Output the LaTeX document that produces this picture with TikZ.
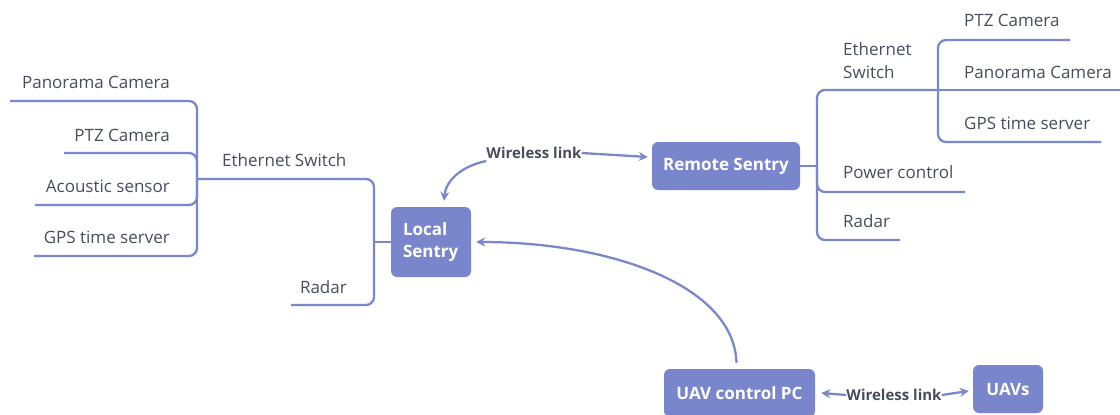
\documentclass[tikz,border=0pt]{standalone}
\usepackage{fontspec}
\setmainfont{Open Sans}
\IfFontExistsTF{Open Sans SemiBold}
  {\newfontfamily\heavyfont{Open Sans SemiBold}}
  {\newcommand\heavyfont{\bfseries}}
\usetikzlibrary{arrows.meta}
\definecolor{linkblue}{HTML}{7B87CD}
\definecolor{boxblue}{HTML}{7A86CB}
\definecolor{ink}{HTML}{474D5A}
\tikzset{
  branch/.style={draw=linkblue, line width=2.3pt, rounded corners=8pt},
  link/.style={draw=linkblue, line width=2.3pt, -{Stealth[length=9pt,width=9pt]}},
  leaf/.style={inner sep=0pt, text=ink, font=\fontsize{17}{23}\selectfont},
  hub/.style={fill=boxblue, rounded corners=6pt, text=white, inner sep=0pt,
    font=\fontsize{17}{22}\selectfont\heavyfont, align=left},
  linklabel/.style={inner sep=0pt, text=ink, font=\fontsize{15}{18}\selectfont\heavyfont}
}
\begin{document}
\begin{tikzpicture}[x=1pt, y=-1pt]
\clip (0,0) rectangle (1120,415);

% main units
\node[hub, minimum width=80pt, minimum height=70pt] (local) at (431,242) {\raisebox{-2pt}{\parbox{56pt}{Local\\Sentry}}};
\node[hub, minimum width=148pt, minimum height=48pt] (remote) at (726,166) {Remote Sentry};
\node[hub, minimum width=151pt, minimum height=48pt] (uavpc) at (739.5,393) {UAV control PC};
\node[hub, minimum width=70pt, minimum height=48pt] (uavs) at (1008,389) {UAVs};

% local sentry tree
\node[leaf, anchor=base east] (lpanT) at (170,88) {Panorama Camera};
\node[leaf, anchor=base east] (lptzT) at (170,141) {PTZ Camera};
\node[leaf, anchor=base east] (lacoT) at (170,192) {Acoustic sensor};
\node[leaf, anchor=base east] (lgpsT) at (170,243) {GPS time server};
\node[leaf, anchor=base west] (lethT) at (222,166) {Ethernet Switch};
\node[leaf, anchor=base east] (lradT) at (347,293) {Radar};

\coordinate (lpan) at (10,101);
\coordinate (lptz) at (64,153);
\coordinate (laco) at (35,205);
\coordinate (lgps) at (34,256);
\coordinate (lhub) at (197,179);
\coordinate (ljoin) at (374,242);
\coordinate (lrad) at (291,305);

\draw[branch] (lpan) -| (lhub);
\draw[branch] (lptz) -| (lhub);
\draw[branch] (laco) -| (lhub);
\draw[branch] (lgps) -| (lhub);
\draw[branch] (lhub) -| (ljoin);
\draw[branch] (lrad) -| (ljoin);
\draw[branch] (ljoin) -- (local.west);

% remote sentry tree
\node[leaf, anchor=base west, align=left] (rethT) at (843,78) {Ethernet\\Switch};
\node[leaf, anchor=base west] (rptzT) at (964,26) {PTZ Camera};
\node[leaf, anchor=base west] (rpanT) at (964,78) {Panorama Camera};
\node[leaf, anchor=base west] (rgpsT) at (964,129) {GPS time server};
\node[leaf, anchor=base west] (rpwrT) at (843,178) {Power control};
\node[leaf, anchor=base west] (rradT) at (843,227) {Radar};

\coordinate (rhub) at (817,166);
\coordinate (rsub) at (938,90);
\coordinate (rpan) at (1120,90);
\coordinate (rptz) at (1070,40);
\coordinate (rgps) at (1101,142);
\coordinate (rpwr) at (965,192);
\coordinate (rrad) at (900,240);

\draw[branch] (remote.east) -- (rhub);
\draw[branch] (rhub) |- (rsub);
\draw[branch] (rsub) -- (rpan);
\draw[branch] (rhub) |- (rpwr);
\draw[branch] (rhub) |- (rrad);
\draw[branch] (rsub) |- (rptz);
\draw[branch] (rsub) |- (rgps);

% wireless links
\node[linklabel] (wl1) at (534,153) {Wireless link};
\draw[link] (wl1.east) -- ([shift={(-4,-9)}]remote.west);
\draw[link] ([shift={(0,8)}]wl1.west) .. controls (462,166) and (446,180) .. ([shift={(13,-6)}]local.north);

\node[linklabel] (wl2) at (894,395) {Wireless link};
\draw[link] (wl2.west) -- ([xshift=6pt]uavpc.east);
\draw[link] (wl2.east) -- ([shift={(-4,2)}]uavs.west);

% uplink from the UAV control PC
\draw[link] ([shift={(-3,-6)}]uavpc.north) .. controls (734,285) and (610,242) .. ([xshift=5pt]local.east);
\end{tikzpicture}
\end{document}
